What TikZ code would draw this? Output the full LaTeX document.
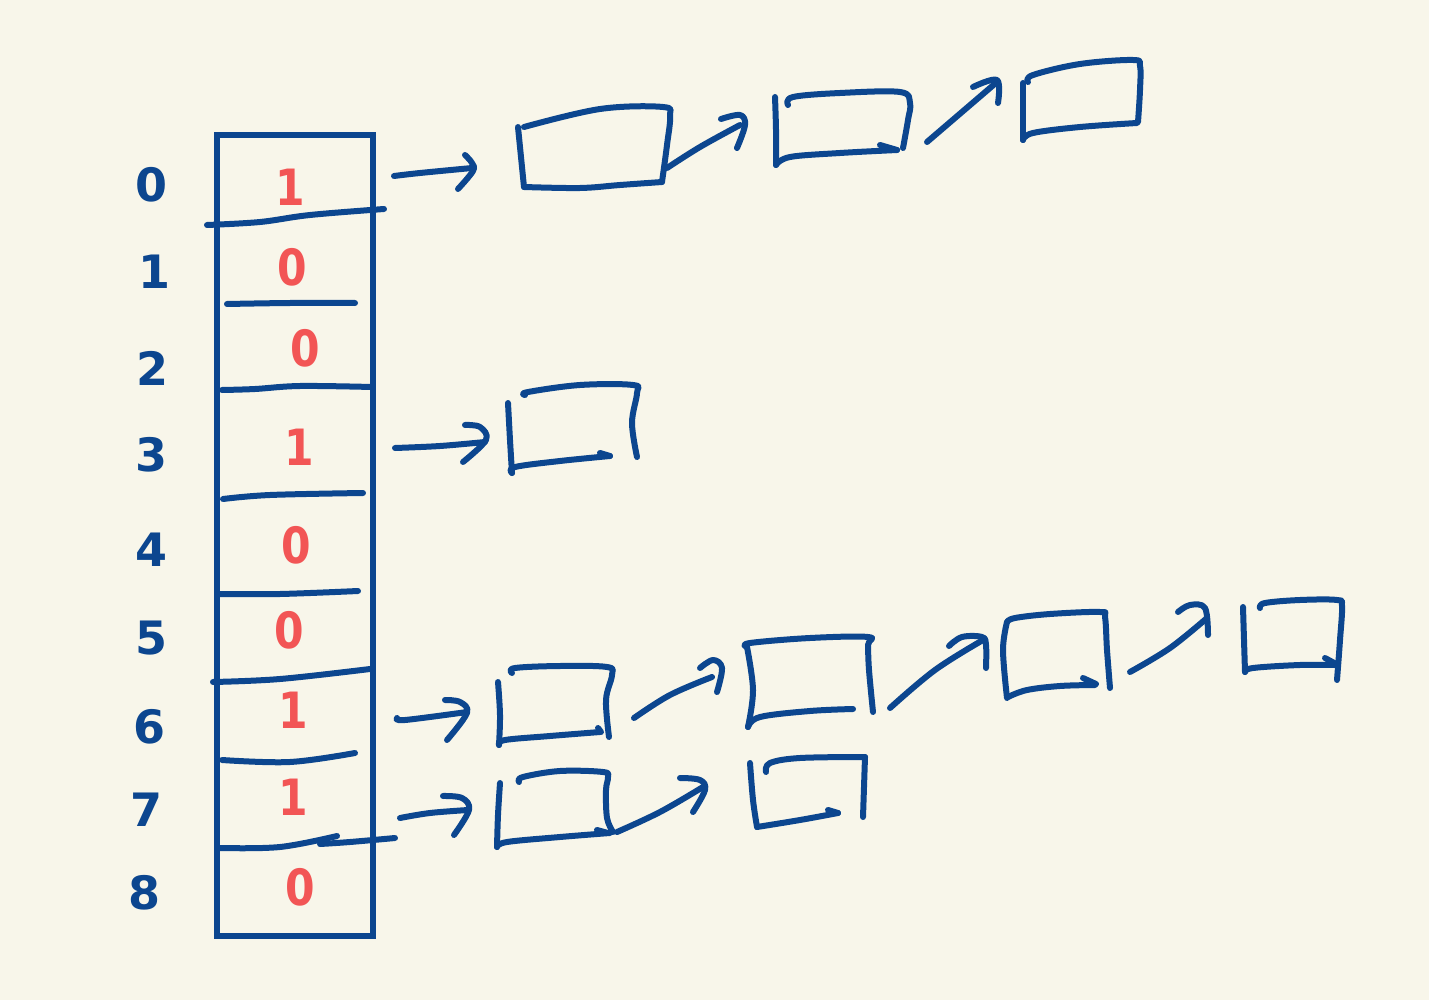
\documentclass[tikz,border=0pt]{standalone}
\usepackage{fontspec}
\newfontfamily\hand{DejaVu Sans}
\definecolor{inkblue}{HTML}{0C468F}
\definecolor{inkred}{HTML}{F25555}
\definecolor{paper}{HTML}{F8F6EA}
\tikzset{
  pen/.style={draw=inkblue, line width=6pt, line cap=round, line join=round},
  idx/.style={text=inkblue, font=\hand\bfseries\fontsize{46}{46}\selectfont, inner sep=0pt},
  bit/.style={text=inkred, font=\hand\bfseries\fontsize{50}{50}\selectfont, inner sep=0pt, xscale=0.85},
}
\newcommand{\stroke}[1]{\draw[pen] plot[smooth, tension=0.6] coordinates {#1};}
\begin{document}
\begin{tikzpicture}[x=1pt,y=-1pt]
\fill[paper] (0,0) rectangle (1429,1000);
\useasboundingbox (0,0) rectangle (1429,1000);

% ---- bucket column ----
\draw[pen, line cap=butt, line join=miter] (217,135) rectangle (373,936);
\stroke{(207,225) (260,222) (310,215) (384,209)}
\stroke{(227,304) (290,303) (355,303)}
\stroke{(222,390) (255,389) (300,386) (372,387)}
\stroke{(223,499) (270,495) (363,493)}
\stroke{(220,594) (280,594) (358,591)}
\stroke{(213,682) (280,679) (370,669)}
\stroke{(222,760) (290,762) (355,753)}
\stroke{(220,848) (280,847) (337,836)}
\stroke{(395,838) (350,842) (320,844)}

% ---- index labels ----
\node[idx] (i0) at (152,185) {0};
\node[idx] (i1) at (155,272) {1};
\node[idx] (i2) at (153,368) {2};
\node[idx] (i3) at (152,455) {3};
\node[idx] (i4) at (152,550) {4};
\node[idx] (i5) at (152,638) {5};
\node[idx] (i6) at (150,727) {6};
\node[idx] (i7) at (147,810) {7};
\node[idx] (i8) at (145,893) {8};

% ---- bit values ----
\node[bit] (b0) at (290,187) {1};
\node[bit] (b1) at (292,267) {0};
\node[bit] (b2) at (305,348) {0};
\node[bit] (b3) at (299,447) {1};
\node[bit] (b4) at (296,545) {0};
\node[bit] (b5) at (289,630) {0};
\node[bit] (b6) at (293,710) {1};
\node[bit] (b7) at (293,797) {1};
\node[bit] (b8) at (300,887) {0};

% ---- row 0 chain ----
\stroke{(394,176) (420,173) (472,168)}
\stroke{(465,155) (472,163) (473,171) (458,189)}
\stroke{(518,127) (521,157) (524,187)}
\stroke{(524,187) (580,188) (620,185) (662,182)}
\stroke{(662,182) (667,145) (670,116) (663,107) (600,109) (524,127)}
\stroke{(667,168) (700,147) (740,125)}
\stroke{(721,119) (740,115) (745,125) (737,148)}
\stroke{(775,97) (776,130) (776,165)}
\stroke{(776,165) (790,157) (840,153) (897,150)}
\stroke{(880,145) (897,150)}
\stroke{(903,148) (908,120) (910,103) (900,92) (840,93) (793,97) (788,105)}
\stroke{(927,142) (962,112) (997,82)}
\stroke{(973,87) (997,80) (998,103)}
\stroke{(1023,83) (1023,112) (1023,140)}
\stroke{(1023,140) (1033,133) (1080,127) (1137,123)}
\stroke{(1138,122) (1140,90) (1140,66) (1133,60) (1080,64) (1033,75) (1028,82)}

% ---- row 3 chain ----
\stroke{(395,448) (440,446) (485,442)}
\stroke{(465,425) (480,427) (486,440) (463,462)}
\stroke{(508,403) (510,440) (512,473)}
\stroke{(512,473) (515,467) (560,461) (610,456)}
\stroke{(600,453) (610,456)}
\stroke{(637,457) (632,423) (637,393) (633,385) (580,385) (528,392) (525,395)}

% ---- row 6 chain ----
\stroke{(397,718) (405,720) (467,712)}
\stroke{(445,700) (460,702) (467,713) (447,740)}
\stroke{(498,682) (500,715) (499,745)}
\stroke{(499,745) (505,740) (550,736) (600,732)}
\stroke{(598,728) (601,732)}
\stroke{(609,737) (606,700) (612,675) (607,667) (560,666) (515,668) (512,673)}
\stroke{(634,718) (670,695) (712,677)}
\stroke{(700,668) (713,660) (722,668) (717,692)}
\stroke{(747,647) (753,690) (748,727)}
\stroke{(748,727) (760,717) (810,711) (853,709)}
\stroke{(873,712) (869,670) (868,645) (868,637) (810,638) (750,643) (747,647)}
\stroke{(890,708) (935,670) (983,640)}
\stroke{(949,646) (962,637) (982,637) (986,645) (986,668)}
\stroke{(1007,622) (1003,650) (1007,698)}
\stroke{(1008,697) (1027,690) (1060,686) (1095,685)}
\stroke{(1083,678) (1096,684)}
\stroke{(1110,688) (1107,650) (1105,617) (1100,612) (1050,614) (1015,618) (1007,622)}
\stroke{(1130,672) (1170,648) (1207,618)}
\stroke{(1178,612) (1190,605) (1205,608) (1208,635)}
\stroke{(1243,607) (1244,640) (1245,672)}
\stroke{(1245,672) (1253,668) (1300,665) (1338,665)}
\stroke{(1325,658) (1338,665)}
\stroke{(1337,680) (1340,640) (1342,606) (1337,600) (1300,600) (1265,603) (1260,608)}

% ---- row 7 chain ----
\stroke{(400,818) (430,813) (468,810)}
\stroke{(443,796) (462,798) (469,810) (454,835)}
\stroke{(500,783) (498,815) (497,847)}
\stroke{(497,847) (507,842) (560,837) (610,833)}
\stroke{(597,830) (608,833)}
\stroke{(613,832) (607,818) (606,790) (608,777) (603,772) (560,771) (523,777) (519,782)}
\stroke{(617,832) (660,812) (703,787)}
\stroke{(680,778) (700,780) (705,790) (693,812)}
\stroke{(750,763) (753,800) (757,827)}
\stroke{(757,827) (800,820) (838,813)}
\stroke{(828,810) (838,813)}
\draw[pen] (863,817) -- (864,787) -- (865,757);
\stroke{(865,757) (800,758) (770,763) (766,772)}
\end{tikzpicture}
\end{document}
